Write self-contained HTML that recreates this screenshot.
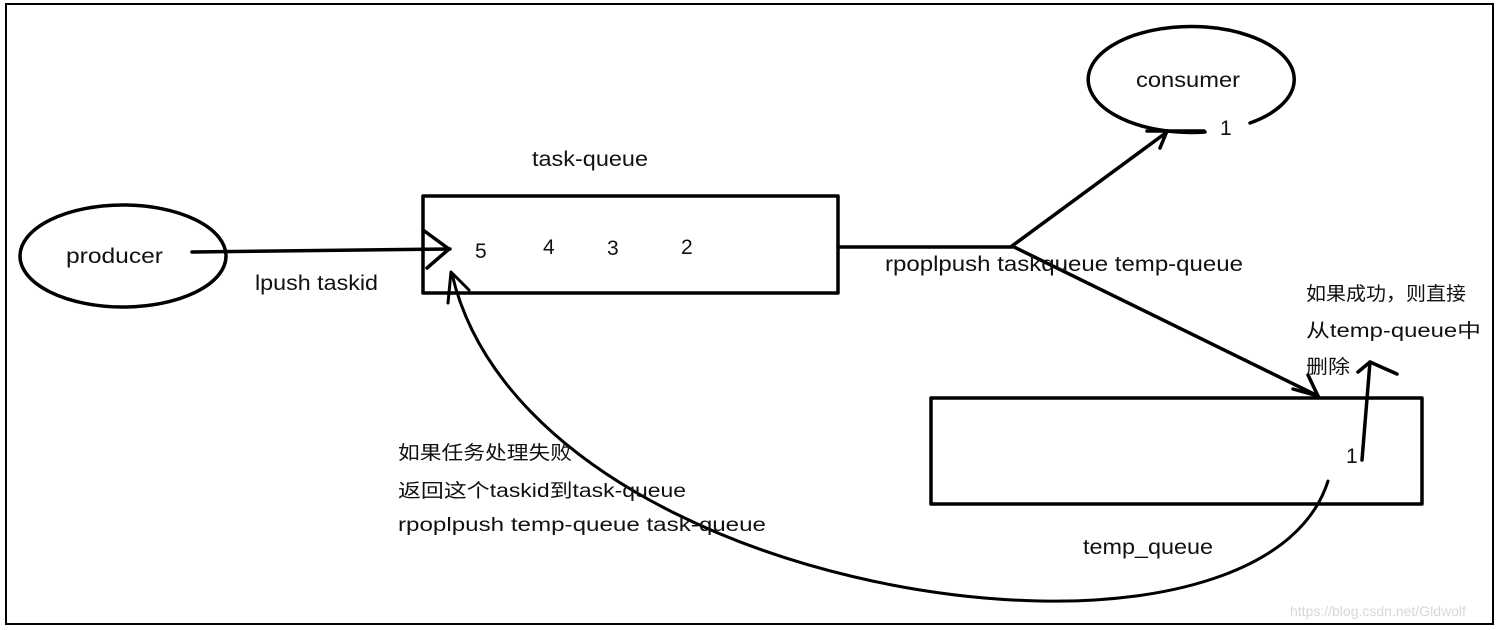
<!DOCTYPE html>
<html><head><meta charset="utf-8"><style>
html,body{margin:0;padding:0;background:#fff;}
svg{display:block;}
text{font-family:"Liberation Sans","Noto Sans CJK SC",sans-serif;font-size:21px;fill:#111;}
</style></head><body>
<svg width="1502" height="630" viewBox="0 0 1502 630" xmlns="http://www.w3.org/2000/svg">
<rect x="0" y="0" width="1502" height="630" fill="#fff"/>
<rect x="6" y="4" width="1487" height="620" fill="none" stroke="#000" stroke-width="2"/>
<g fill="none" stroke="#000" stroke-width="3.5" stroke-linecap="round" stroke-linejoin="round">
<ellipse cx="123" cy="256" rx="103" ry="51"/>
<path d="M192,252 L450,249"/>
<path d="M423,230 L449,249 L427,268"/>
<rect x="423" y="196" width="415" height="97"/>
<path d="M838,247 L1012,247"/>
<path d="M1012,246 L1167,132"/>
<path d="M1147,131 L1167,131 L1160,148"/>
<path d="M1167,131 L1204,131"/>
<path d="M1250,123 A103,53 0 1 0 1205,132"/>
<path d="M1012,246 L1318,396"/>
<path d="M1293,389 L1318,396 L1308,375"/>
<rect x="931" y="398" width="491" height="106"/>
<path d="M1362,460 L1370,362"/>
<path d="M1358,372 L1370,362 L1397,374"/>
<path d="M1328,481 C1300,570 1170,604 1040,601 C800,596 500,480 452,274" stroke-width="3"/>
<path d="M448,303 L451,272 L469,290" stroke-width="3"/>
</g>
<g>
<text x="532" y="166" textLength="116" lengthAdjust="spacingAndGlyphs">task-queue</text>
<text x="475" y="258">5</text>
<text x="543" y="254">4</text>
<text x="607" y="255">3</text>
<text x="681" y="254">2</text>
<text x="66" y="263" textLength="97" lengthAdjust="spacingAndGlyphs">producer</text>
<text x="255" y="290" textLength="123" lengthAdjust="spacingAndGlyphs">lpush taskid</text>
<text x="1136" y="87" textLength="104" lengthAdjust="spacingAndGlyphs">consumer</text>
<text x="1220" y="135">1</text>
<text x="885" y="271" textLength="358" lengthAdjust="spacingAndGlyphs">rpoplpush taskqueue temp-queue</text>
<text x="1306" y="300" style="font-size:19px" textLength="160" lengthAdjust="spacingAndGlyphs">如果成功，则直接</text>
<text x="1306" y="337" style="font-size:19px" textLength="175" lengthAdjust="spacingAndGlyphs">从temp-queue中</text>
<text x="1306" y="373" style="font-size:19px" textLength="44" lengthAdjust="spacingAndGlyphs">删除</text>
<text x="1346" y="463">1</text>
<text x="1083" y="554" textLength="130" lengthAdjust="spacingAndGlyphs">temp_queue</text>
<text x="398" y="459" style="font-size:19px" textLength="174" lengthAdjust="spacingAndGlyphs">如果任务处理失败</text>
<text x="398" y="497" style="font-size:19px" textLength="288" lengthAdjust="spacingAndGlyphs">返回这个taskid到task-queue</text>
<text x="398" y="531" style="font-size:19px" textLength="368" lengthAdjust="spacingAndGlyphs">rpoplpush temp-queue task-queue</text>
</g>
<text x="1290" y="616" style="font-size:14px;fill:#d8d8d8">https://blog.csdn.net/Gldwolf</text>
</svg>
</body></html>
